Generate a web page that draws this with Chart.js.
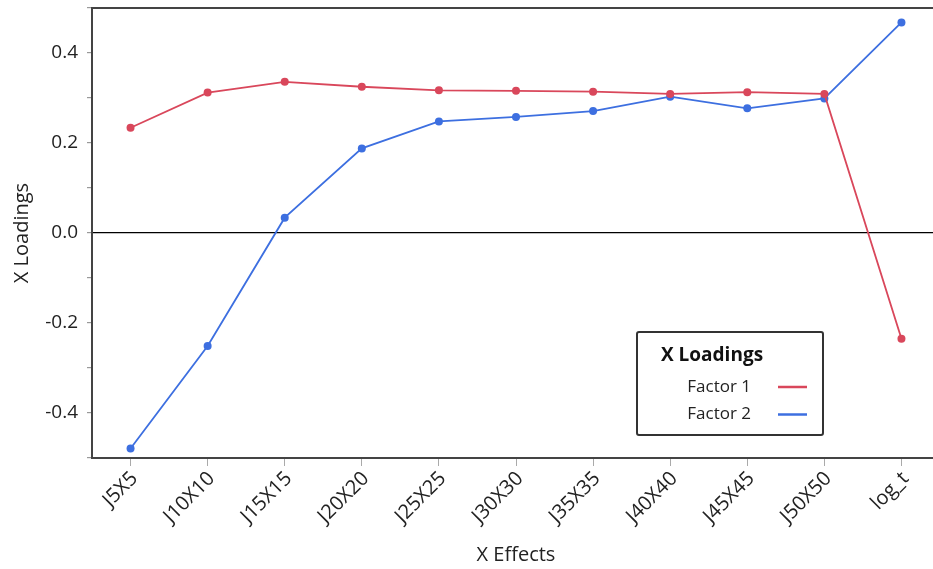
<!DOCTYPE html>
<html>
<head>
<meta charset="utf-8">
<script src="https://cdn.jsdelivr.net/npm/chart.js@4"></script>
<style>
  html, body { margin: 0; padding: 0; background: #fff; overflow: hidden; }
  #wrap { width: 945px; height: 569px; }
</style>
</head>
<body>
<div id="wrap"><canvas id="c"></canvas></div>
<script>
// X effect categories
const effects = ['J5X5', 'J10X10', 'J15X15', 'J20X20', 'J25X25', 'J30X30',
                 'J35X35', 'J40X40', 'J45X45', 'J50X50', 'log_t'];
// Loadings for each factor
const factor1 = [0.234, 0.312, 0.336, 0.325, 0.317, 0.316, 0.314, 0.309, 0.313, 0.309, -0.235];
const factor2 = [-0.479, -0.251, 0.034, 0.188, 0.248, 0.258, 0.271, 0.303, 0.277, 0.299, 0.468];
// Labelled Y ticks (minor ticks sit halfway between)
const yLabels = [-0.4, -0.2, 0.0, 0.2, 0.4];

const RED = '#d9475b';
const BLUE = '#3d6fe0';
const FONT = '"Open Sans", "Noto Sans", sans-serif';

// Frame line along the top of the plot area
const framePlugin = {
  id: 'frame',
  afterDraw(chart) {
    const { ctx, chartArea: a } = chart;
    ctx.save();
    ctx.strokeStyle = '#444';
    ctx.lineWidth = 2;
    ctx.beginPath();
    ctx.moveTo(a.left - 1, a.top);
    ctx.lineTo(a.right, a.top);
    ctx.stroke();
    ctx.restore();
  }
};

// Boxed legend: title, then each series name followed by its line sample
const boxLegend = {
  id: 'boxLegend',
  afterDraw(chart) {
    const { ctx } = chart;
    const x = 637, y = 332, w = 186, h = 103;
    ctx.save();
    ctx.fillStyle = '#fff';
    ctx.strokeStyle = '#333';
    ctx.lineWidth = 2;
    ctx.beginPath();
    ctx.roundRect(x, y, w, h, 2);
    ctx.fill();
    ctx.stroke();
    ctx.fillStyle = '#111';
    ctx.font = 'bold 19px ' + FONT;
    ctx.textBaseline = 'middle';
    ctx.textAlign = 'left';
    ctx.fillText('X Loadings', x + 24, y + 24);
    ctx.font = '17px ' + FONT;
    chart.data.datasets.forEach((ds, i) => {
      const cy = y + 55 + i * 27.5;
      ctx.fillStyle = '#222';
      ctx.textAlign = 'right';
      ctx.fillText(ds.label, x + 114, cy);
      ctx.strokeStyle = ds.borderColor;
      ctx.lineWidth = 2.5;
      ctx.beginPath();
      ctx.moveTo(x + 141, cy);
      ctx.lineTo(x + 170, cy);
      ctx.stroke();
    });
    ctx.restore();
  }
};

new Chart(document.getElementById('c'), {
  type: 'line',
  data: {
    labels: effects,
    datasets: [
      { label: 'Factor 1', data: factor1, borderColor: RED, backgroundColor: RED,
        borderWidth: 1.8, pointRadius: 4, pointBorderWidth: 0, tension: 0 },
      { label: 'Factor 2', data: factor2, borderColor: BLUE, backgroundColor: BLUE,
        borderWidth: 1.8, pointRadius: 4, pointBorderWidth: 0, tension: 0 }
    ]
  },
  options: {
    responsive: true,
    maintainAspectRatio: false,
    animation: false,
    layout: { padding: { left: 0, right: 5, top: 8, bottom: 0 } },
    plugins: { legend: { display: false }, tooltip: { enabled: false } },
    scales: {
      x: {
        type: 'category',
        offset: true,
        afterFit(s) { s.height = 111; s.paddingLeft = 0; s.paddingRight = 0; },
        border: { color: '#444', width: 2 },
        grid: { drawOnChartArea: false, tickLength: 8, tickColor: '#aaa' },
        ticks: {
          minRotation: 45, maxRotation: 45, autoSkip: false, padding: 1, labelOffset: 4,
          color: '#222', font: { family: FONT, size: 20 }
        },
        title: {
          display: true, text: 'X Effects', color: '#222',
          font: { family: FONT, size: 20 }, padding: { top: 0, bottom: 2 }
        }
      },
      y: {
        min: -0.5, max: 0.5,
        afterFit(s) { s.width = 92; s.paddingTop = 0; s.paddingBottom = 0; },
        border: { color: '#444', width: 2 },
        grid: {
          color: (c) => (c.tick && Math.abs(c.tick.value) < 1e-9 ? '#000' : 'rgba(0,0,0,0)'),
          lineWidth: 1.2,
          tickLength: 5,
          tickColor: '#999'
        },
        ticks: {
          stepSize: 0.1, autoSkip: false, padding: 9,
          color: '#222', font: { family: FONT, size: 19 },
          callback(v) {
            const r = Math.round(v * 10) / 10;
            return yLabels.some(l => Math.abs(l - r) < 1e-9) ? r.toFixed(1) : '';
          }
        },
        title: {
          display: true, text: 'X Loadings', color: '#222',
          font: { family: FONT, size: 20 }, padding: { top: 10, bottom: 0 }
        }
      }
    }
  },
  plugins: [framePlugin, boxLegend]
});
</script>
</body>
</html>
